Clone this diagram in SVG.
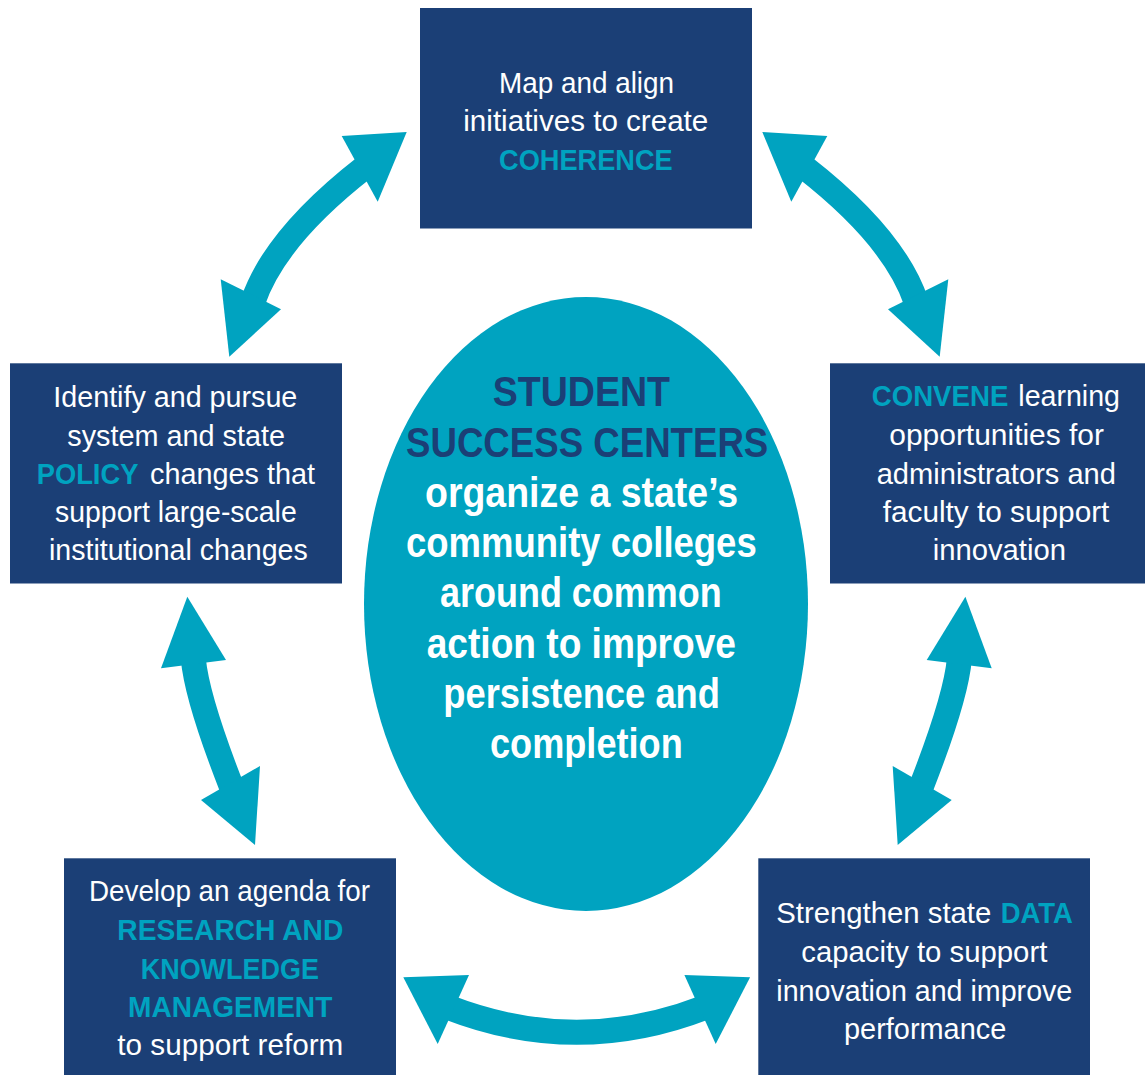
<svg xmlns="http://www.w3.org/2000/svg" width="1145" height="1075" viewBox="0 0 1145 1075">
  <style>
    .box { fill: #1b3f76; }
    .hub { fill: #00a3c0; }
    .shaft { fill: none; stroke: #00a3c0; stroke-width: 25; stroke-linecap: butt; }
    .head { fill: #00a3c0; }
    .t { font-family: "Liberation Sans", Arial, sans-serif; font-size: 29px; fill: #ffffff; }
    .k { font-family: "Liberation Sans", Arial, sans-serif; font-size: 29px; font-weight: bold; fill: #00a3c0; }
    .c { font-family: "Liberation Sans", Arial, sans-serif; font-size: 43px; font-weight: bold; fill: #ffffff; }
    .cn { fill: #1b3f76; }
  </style>
  <rect width="1145" height="1075" fill="#ffffff"/>

  <!-- double-headed curved connectors -->
  <g id="connectors">
    <g id="arrow-top-left">
      <path class="shaft" d="M365,167 Q275,237 253,301.5"/>
      <polygon class="head" points="341.7,136 406.7,132 377.7,201.7"/>
      <polygon class="head" points="220.7,279.3 281,309.3 229.3,356.7"/>
    </g>
    <g id="arrow-top-right">
      <path class="shaft" d="M804,167 Q894,237 916,301.5"/>
      <polygon class="head" points="827.3,136 762.3,132 791.3,201.7"/>
      <polygon class="head" points="948.3,279.3 888,309.3 939.7,356.7"/>
    </g>
    <g id="arrow-left">
      <path class="shaft" d="M193.3,659 Q197,699 232.2,788.6"/>
      <polygon class="head" points="187.3,596.7 161,668.3 226,660"/>
      <polygon class="head" points="201,800 260,766 255,845"/>
    </g>
    <g id="arrow-right">
      <path class="shaft" d="M959.4,659 Q955.7,699 920.5,788.6"/>
      <polygon class="head" points="965.4,596.7 991.7,668.3 926.7,660"/>
      <polygon class="head" points="951.7,800 892.7,766 897.7,845"/>
    </g>
    <g id="arrow-bottom">
      <path class="shaft" d="M448.7,1007.5 Q576.7,1057 704.7,1007.5"/>
      <polygon class="head" points="403.3,977.3 469,975 437.7,1044"/>
      <polygon class="head" points="750.1,977.3 684.4,975 715.7,1044"/>
    </g>
  </g>

  <!-- central hub -->
  <g id="hub">
    <ellipse class="hub" cx="586" cy="604" rx="222" ry="307"/>
    <text class="c cn" x="492.7" y="406" textLength="177.3" lengthAdjust="spacingAndGlyphs">STUDENT</text>
    <text class="c cn" x="406" y="456.5" textLength="362.3" lengthAdjust="spacingAndGlyphs">SUCCESS CENTERS</text>
    <text class="c" x="425" y="506.7" textLength="313" lengthAdjust="spacingAndGlyphs">organize a state’s</text>
    <text class="c" x="406" y="556.7" textLength="350.7" lengthAdjust="spacingAndGlyphs">community colleges</text>
    <text class="c" x="440" y="607.3" textLength="281.7" lengthAdjust="spacingAndGlyphs">around common</text>
    <text class="c" x="426.7" y="657.7" textLength="309.3" lengthAdjust="spacingAndGlyphs">action to improve</text>
    <text class="c" x="443.3" y="708.3" textLength="276.7" lengthAdjust="spacingAndGlyphs">persistence and</text>
    <text class="c" x="490" y="758.3" textLength="192.7" lengthAdjust="spacingAndGlyphs">completion</text>
  </g>

  <!-- coherence -->
  <g id="node-coherence">
    <rect class="box" x="420" y="8" width="332" height="220.5"/>
    <text class="t" x="499" y="93" textLength="175" lengthAdjust="spacingAndGlyphs">Map and align</text>
    <text class="t" x="463.3" y="131.3" textLength="245" lengthAdjust="spacingAndGlyphs">initiatives to create</text>
    <text class="k" x="499" y="170" textLength="173.7" lengthAdjust="spacingAndGlyphs">COHERENCE</text>
  </g>

  <!-- policy -->
  <g id="node-policy">
    <rect class="box" x="10" y="363.3" width="332" height="220.2"/>
    <text class="t" x="53.3" y="407.3" textLength="244" lengthAdjust="spacingAndGlyphs">Identify and pursue</text>
    <text class="t" x="67.3" y="445.7" textLength="217.7" lengthAdjust="spacingAndGlyphs">system and state</text>
    <text class="k" x="36.7" y="483.7" textLength="101.7" lengthAdjust="spacingAndGlyphs">POLICY</text>
    <text class="t" x="150" y="483.7" textLength="165" lengthAdjust="spacingAndGlyphs">changes that</text>
    <text class="t" x="55" y="522" textLength="241.7" lengthAdjust="spacingAndGlyphs">support large-scale</text>
    <text class="t" x="49" y="560.3" textLength="258.7" lengthAdjust="spacingAndGlyphs">institutional changes</text>
  </g>

  <!-- convene -->
  <g id="node-convene">
    <rect class="box" x="830" y="363.3" width="315" height="220.2"/>
    <text class="k" x="871.7" y="406.3" textLength="136.7" lengthAdjust="spacingAndGlyphs">CONVENE</text>
    <text class="t" x="1018.3" y="406.3" textLength="101.7" lengthAdjust="spacingAndGlyphs">learning</text>
    <text class="t" x="889.3" y="444.7" textLength="214.7" lengthAdjust="spacingAndGlyphs">opportunities for</text>
    <text class="t" x="876.7" y="483.7" textLength="239.3" lengthAdjust="spacingAndGlyphs">administrators and</text>
    <text class="t" x="882.7" y="522" textLength="226.7" lengthAdjust="spacingAndGlyphs">faculty to support</text>
    <text class="t" x="932.7" y="560.3" textLength="133.3" lengthAdjust="spacingAndGlyphs">innovation</text>
  </g>

  <!-- research -->
  <g id="node-research">
    <rect class="box" x="64" y="858.3" width="332" height="216.7"/>
    <text class="t" x="89" y="901.3" textLength="281" lengthAdjust="spacingAndGlyphs">Develop an agenda for</text>
    <text class="k" x="117.3" y="940.3" textLength="226" lengthAdjust="spacingAndGlyphs">RESEARCH AND</text>
    <text class="k" x="140.7" y="978.7" textLength="178.3" lengthAdjust="spacingAndGlyphs">KNOWLEDGE</text>
    <text class="k" x="128" y="1017.3" textLength="204.3" lengthAdjust="spacingAndGlyphs">MANAGEMENT</text>
    <text class="t" x="117.3" y="1055.3" textLength="226" lengthAdjust="spacingAndGlyphs">to support reform</text>
  </g>

  <!-- data -->
  <g id="node-data">
    <rect class="box" x="758.3" y="858.3" width="331.7" height="216.7"/>
    <text class="t" x="776.3" y="923" textLength="215" lengthAdjust="spacingAndGlyphs">Strengthen state</text>
    <text class="k" x="1000.7" y="923" textLength="72.3" lengthAdjust="spacingAndGlyphs">DATA</text>
    <text class="t" x="801.3" y="962" textLength="246" lengthAdjust="spacingAndGlyphs">capacity to support</text>
    <text class="t" x="776.3" y="1000.7" textLength="296" lengthAdjust="spacingAndGlyphs">innovation and improve</text>
    <text class="t" x="844" y="1038.7" textLength="162.3" lengthAdjust="spacingAndGlyphs">performance</text>
  </g>
</svg>
